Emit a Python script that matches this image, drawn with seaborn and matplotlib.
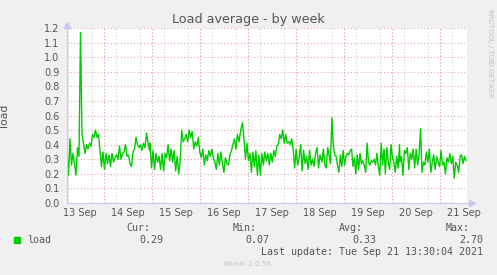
import numpy as np
import pandas as pd
import matplotlib
matplotlib.use("Agg")
import matplotlib.pyplot as plt
import matplotlib.dates as mdates
import seaborn as sns

# ---- data ----
seg_a_span = ("2021-09-13 05:30", "2021-09-14 22:45")
seg_a = [0.36, 0.19, 0.44, 0.26, 0.34, 0.27, 0.19, 0.38, 0.32, 1.17,
         0.47, 0.41, 0.34, 0.40, 0.37, 0.41, 0.39, 0.47, 0.45, 0.50,
         0.45, 0.47, 0.36, 0.25, 0.35, 0.23, 0.34, 0.27, 0.33, 0.25,
         0.34, 0.28, 0.31, 0.33, 0.30, 0.39, 0.30, 0.34, 0.35, 0.40,
         0.32, 0.33, 0.27, 0.25, 0.35, 0.37, 0.45, 0.40, 0.38, 0.40,
         0.36, 0.41, 0.38, 0.48, 0.41, 0.36]
seg_b_span = ("2021-09-14 23:00", "2021-09-16 19:30")
seg_b = [0.41, 0.24, 0.36, 0.23, 0.34, 0.28, 0.32, 0.23, 0.34, 0.22,
         0.34, 0.31, 0.40, 0.29, 0.37, 0.28, 0.36, 0.22, 0.32, 0.20,
         0.29, 0.50, 0.42, 0.44, 0.47, 0.42, 0.50, 0.45, 0.49, 0.37,
         0.42, 0.39, 0.45, 0.35, 0.31, 0.37, 0.26, 0.33, 0.29, 0.36,
         0.32, 0.37, 0.31, 0.28, 0.23, 0.34, 0.26, 0.35, 0.27, 0.21,
         0.31, 0.27, 0.26, 0.33, 0.36, 0.40, 0.44, 0.37, 0.47, 0.42]
seg_c_span = ("2021-09-16 20:30", "2021-09-18 12:00")
seg_c = [0.51, 0.55, 0.44, 0.30, 0.41, 0.29, 0.34, 0.21, 0.35, 0.25,
         0.36, 0.19, 0.33, 0.19, 0.34, 0.26, 0.35, 0.29, 0.34, 0.26,
         0.34, 0.28, 0.36, 0.32, 0.39, 0.40, 0.47, 0.44, 0.50, 0.41,
         0.47, 0.41, 0.42, 0.40, 0.44, 0.37, 0.24, 0.37, 0.26, 0.31,
         0.40, 0.22, 0.36, 0.27, 0.32, 0.23, 0.36, 0.26, 0.30, 0.25,
         0.34, 0.38, 0.24, 0.33]
seg_d_span = ("2021-09-18 13:00", "2021-09-20 03:45")
seg_d = [0.28, 0.37, 0.26, 0.24, 0.38, 0.33, 0.27, 0.585, 0.40, 0.33,
         0.32, 0.26, 0.21, 0.33, 0.25, 0.36, 0.26, 0.32, 0.34, 0.33,
         0.36, 0.37, 0.25, 0.31, 0.20, 0.33, 0.23, 0.34, 0.27, 0.29,
         0.26, 0.21, 0.41, 0.28, 0.26, 0.29, 0.28, 0.30, 0.26, 0.34,
         0.25, 0.19, 0.41, 0.26, 0.37, 0.20, 0.38, 0.28, 0.23, 0.40,
         0.31, 0.28, 0.21, 0.32, 0.24, 0.40]
seg_e_span = ("2021-09-20 04:00", "2021-09-21 13:00")
seg_e = [0.28, 0.32, 0.19, 0.36, 0.34, 0.38, 0.23, 0.34, 0.30, 0.37,
         0.24, 0.37, 0.26, 0.33, 0.51, 0.21, 0.28, 0.26, 0.35, 0.28,
         0.37, 0.21, 0.28, 0.33, 0.23, 0.32, 0.28, 0.25, 0.36, 0.26,
         0.28, 0.20, 0.31, 0.28, 0.34, 0.27, 0.32, 0.17, 0.28, 0.26,
         0.21, 0.32, 0.33, 0.27, 0.32, 0.29]

x_start = "2021-09-13 05:30"
x_end = "2021-09-21 13:30"
day_labels = ["13 Sep", "14 Sep", "15 Sep", "16 Sep", "17 Sep",
              "18 Sep", "19 Sep", "20 Sep", "21 Sep"]
y_ticks = [0.0, 0.1, 0.2, 0.3, 0.4, 0.5, 0.6, 0.7, 0.8, 0.9, 1.0, 1.1, 1.2]

stat_names = ["Cur:", "Min:", "Avg:", "Max:"]
stat_values = ["0.29", "0.07", "0.33", "2.70"]
series_name = "load"
title = "Load average - by week"
last_update = "Last update: Tue Sep 21 13:30:04 2021"

# ---- build frame ----
frames = []
for span, vals in [(seg_a_span, seg_a), (seg_b_span, seg_b), (seg_c_span, seg_c),
                   (seg_d_span, seg_d), (seg_e_span, seg_e)]:
    t = pd.date_range(span[0], span[1], periods=len(vals))
    frames.append(pd.DataFrame({"time": t, "load": vals}))
df = pd.concat(frames, ignore_index=True)

# ---- style ----
sns.set_theme(style="white")
plt.rcParams["font.family"] = ["DejaVu Sans"]

BG = "#F0F0F0"
AXIS = "#C8C8F0"
MGRID = "#E5A8A8"
GRID = "#CFCFCF"
TXT = "#555555"

W, H = 497, 275
fig = plt.figure(figsize=(W / 100, H / 100), dpi=100, facecolor=BG)
L, R, T, B = 67, 467, 28, 203
ax = fig.add_axes([L / W, 1 - B / H, (R - L) / W, (B - T) / H])
ax.set_facecolor("white")

sns.lineplot(data=df, x="time", y="load", color="#00CC00", lw=1.0, ax=ax,
             zorder=5)

xs = pd.Timestamp(x_start)
xe = pd.Timestamp(x_end)
ax.set_xlim(xs, xe)
ax.set_ylim(0, 1.2)

# grid
ax.set_yticks(y_ticks)
ax.set_yticklabels([f"{v:.1f}" for v in y_ticks])
ax.yaxis.grid(True, color=MGRID, ls=(0, (1, 2)), lw=0.8)
ax.xaxis.set_minor_locator(mdates.HourLocator(byhour=[0, 6, 12, 18]))
ax.xaxis.grid(True, which="minor", color=GRID, ls=(0, (1, 2)), lw=0.8)
ax.xaxis.grid(False, which="major")
days = pd.date_range("2021-09-14", "2021-09-21", freq="D")
for d in days:
    ax.axvline(d, color=MGRID, ls=(0, (1, 2)), lw=0.8, zorder=1)
ax.set_axisbelow(True)

# x labels at noon
noons = pd.date_range("2021-09-13 12:00", periods=len(day_labels), freq="D")
ax.set_xticks(noons)
ax.set_xticklabels(day_labels)
ax.tick_params(axis="x", which="major", length=0, pad=3.5, labelsize=7, colors=TXT)
ax.tick_params(axis="x", which="minor", length=2, direction="inout", color=GRID)
ax.tick_params(axis="y", length=2, direction="inout", color=MGRID, pad=4.5,
               labelsize=7, labelcolor=TXT)

for s in ["top", "right"]:
    ax.spines[s].set_visible(False)
for s in ["left", "bottom"]:
    ax.spines[s].set_color(AXIS)
    ax.spines[s].set_linewidth(0.8)
    ax.spines[s].set_zorder(6)
ax.set_xlabel("")
ax.set_ylabel("load", fontsize=7.8, color=TXT)
ax.yaxis.set_label_coords(-0.145, 0.5)

# axis arrows
ax.plot([0], [1.02], marker="^", ms=5, color=AXIS, transform=ax.transAxes,
        clip_on=False, zorder=7)
ax.plot([1.0125], [0], marker=">", ms=5, color=AXIS, transform=ax.transAxes,
        clip_on=False, zorder=7)
ax.plot([0, 0], [1.0, 1.02], color=AXIS, lw=0.8, transform=ax.transAxes,
        clip_on=False)
ax.plot([1.0, 1.0125], [0, 0], color=AXIS, lw=0.8, transform=ax.transAxes,
        clip_on=False)

# title and side text
fig.text(248 / W, 1 - 20 / H, title, ha="center", va="center", fontsize=9.2,
         color=TXT)
fig.text(490 / W, 1 - 53 / H, "RRDTOOL / TOBI OETIKER", rotation=270,
         ha="center", va="center", fontsize=5, color="#C0C0C0")

# legend
mono = "DejaVu Sans Mono"
stat_right = [150, 257, 363, 470]
val_right = [163, 269, 376, 483]
for name, xr in zip(stat_names, stat_right):
    fig.text(xr / W, 1 - 228 / H, name, ha="right", va="center", fontsize=7.2,
             family=mono, color=TXT)
for v, xr in zip(stat_values, val_right):
    fig.text(xr / W, 1 - 240 / H, v, ha="right", va="center", fontsize=7.2,
             family=mono, color=TXT)
fig.patches.append(plt.Rectangle((14 / W, 1 - 242.5 / H), 5.5 / W, 5.5 / H,
                                 transform=fig.transFigure, color="#00CC00"))
fig.text(27 / W, 1 - 240 / H, series_name, ha="left", va="center", fontsize=7.2,
         family=mono, color=TXT)
fig.text(483 / W, 1 - 252 / H, last_update, ha="right", va="center",
         fontsize=7.2, family=mono, color=TXT)
fig.text(248 / W, 1 - 264 / H, "Munin 2.0.56", ha="center", va="center",
         fontsize=5.2, color="#C4C4C4")

fig.savefig("out.png", dpi=100, facecolor=BG)
